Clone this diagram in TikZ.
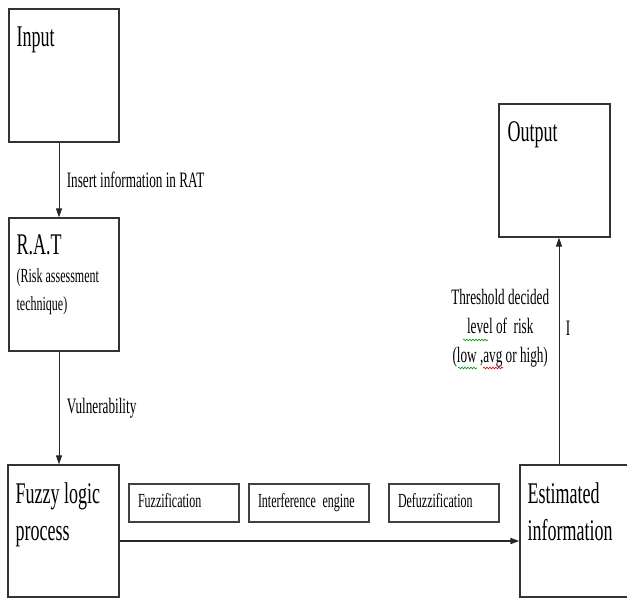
\documentclass[tikz,border=0pt]{standalone}
\usepackage{fontspec}
\setmainfont{Liberation Serif}[FakeStretch=0.6]
\usetikzlibrary{arrows.meta,decorations.pathmorphing}
\newcommand{\bigtxt}{\fontsize{30}{37}\selectfont}
\newcommand{\midtxt}{\fontsize{22}{29}\selectfont}
\newcommand{\smalltxt}{\fontsize{20}{28}\selectfont}

\begin{document}
\begin{tikzpicture}[x=1pt,y=-1pt,
        block/.style={draw=black!80,line width=1.2pt,inner sep=0pt},
        title/.style={anchor=north west,align=left,inner sep=0pt,font=\bigtxt},
        stage/.style={draw=black!75,line width=1.5pt,minimum height=38pt,inner xsep=9pt,
            text height=13pt,text depth=4pt,font=\smalltxt,align=left},
        flow/.style={draw=black!85,line width=1pt,-{Triangle[length=9pt,width=6pt]}},
        squig/.style={decorate,decoration={snake,amplitude=0.9pt,segment length=3pt},line width=0.6pt}]
    \useasboundingbox (0,0) rectangle (627,601);
    % main blocks
    \node[block,minimum width=110pt,minimum height=133pt,
        label={[title,xshift=8pt,yshift=-18pt]north west:Input}] (input) at (64,75.5) {};
    \node[block,minimum width=110pt,minimum height=133pt,
        label={[title,xshift=8pt,yshift=-17pt,font=\smalltxt]north west:{\bigtxt R.A.T}\\(Risk assessment\\technique)}] (rat) at (64,284.5) {};
    \node[block,minimum width=111pt,minimum height=132pt,
        label={[title,xshift=8pt,yshift=-18pt]north west:Fuzzy logic\\process}] (fuzzy) at (63.5,531) {};
    \node[block,minimum width=112pt,minimum height=132pt,
        label={[title,xshift=8pt,yshift=-18pt]north west:Estimated\\information}] (est) at (576,531) {};
    \node[block,minimum width=111pt,minimum height=133pt,
        label={[title,xshift=9pt,yshift=-18pt]north west:Output}] (output) at (554.5,170.5) {};
    % fuzzy stages
    \node[stage,text width=92pt] (fuzzif) at (184,503) {\mbox{Fuzzification}};
    \node[stage,text width=102pt] (engine) at (309,503) {\mbox{Interference engine}};
    \node[stage,text width=92pt] (defuzz) at (444,503) {\mbox{Defuzzification}};
    % arrows
    \draw[flow] ([xshift=-5pt]input.south) -- ([xshift=-5pt]rat.north)
        node[midway,right,xshift=4pt,font=\midtxt] (insert) {Insert information in RAT};
    \draw[flow] ([xshift=-5pt]rat.south) -- ([xshift=-4.5pt]fuzzy.north)
        node[midway,right,xshift=4pt,font=\midtxt] (vuln) {Vulnerability};
    \draw[flow,line width=1.6pt] ([yshift=-10pt]fuzzy.east) -- ([yshift=-10pt]est.west);
    \draw[flow] ([xshift=-17pt]est.north) -- ([xshift=4.5pt]output.south)
        node[pos=0.6,right,xshift=3pt,font=\midtxt] (imark) {I}
        node[pos=0.6,left,xshift=-6pt,align=center,font=\midtxt] (thresh) {Threshold decided\\level of~~risk\\(low ,avg or high)};
    % spell-check marks
    \draw[squig,green!60!black] (463,340) -- (488,340);
    \draw[squig,green!60!black] (458,368) -- (477,368);
    \draw[squig,red!85!black] (483,368) -- (503,368);
\end{tikzpicture}
\end{document}
